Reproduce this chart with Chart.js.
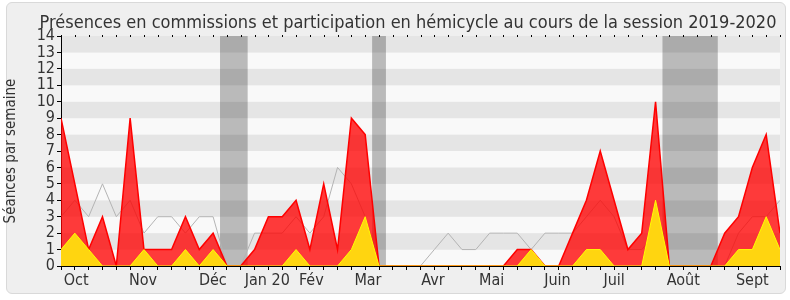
<!DOCTYPE html>
<html>
<head>
<meta charset="utf-8">
<script src="https://cdn.jsdelivr.net/npm/chart.js@4/dist/chart.umd.min.js"></script>
<style>
  html, body { margin: 0; padding: 0; background: #fff; }
  #wrap { position: relative; width: 790px; height: 300px; }
  #panel { position: absolute; left: 6px; top: 2px; width: 778px; height: 290px;
           background: #efefef; border: 1px solid #d9d9d9; border-radius: 6px; }
  canvas { position: absolute; left: 0; top: 0; }
</style>
</head>
<body>
<div id="wrap">
  <div id="panel"></div>
  <canvas id="chart" width="790" height="300"></canvas>
</div>
<script>
// weekly values, session 2019-2020 (week 0 = first week of October)
const commissions = [9, 5, 1, 3, 0, 9, 1, 1, 1, 3, 1, 2, 0, 0, 1, 3, 3, 4, 1, 5, 1, 9, 8, 0, 0, 0, 0,
                     0, 0, 0, 0, 0, 0, 1, 1, 0, 0, 2, 4, 7, 4, 1, 2, 10, 0, 0, 0, 0, 2, 3, 6, 8, 2];
const hemicycle   = [1, 2, 1, 0, 0, 0, 1, 0, 0, 1, 0, 1, 0, 0, 0, 0, 0, 1, 0, 0, 0, 1, 3, 0, 0, 0, 0,
                     0, 0, 0, 0, 0, 0, 0, 1, 0, 0, 0, 1, 1, 0, 0, 0, 4, 0, 0, 0, 0, 0, 1, 1, 3, 1];
const average     = [3, 4, 3, 5, 3, 4, 2, 3, 3, 2, 3, 3, 0, 0, 2, 2, 2, 3, 2, 3, 6, 5, 3, 0, 0, 0, 0,
                     1, 2, 1, 1, 2, 2, 2, 1, 2, 2, 2, 3, 4, 3, 1, 1, 2, 0, 0, 0, 0, 0, 2, 3, 3, 4];

const monthLabels = ['Oct', 'Nov', 'Déc', 'Jan 20', 'Fév', 'Mar', 'Avr', 'Mai', 'Juin', 'Juil', 'Août', 'Sept'];
const monthPos    = [1.1, 5.93, 10.98, 14.92, 18.1, 22.2, 26.9, 31.15, 35.9, 40.0, 45.0, 50.0];

// parliamentary breaks (in weeks)
const breakStart = [11.5, 22.5, 43.5];
const breakEnd   = [13.5, 23.5, 47.5];

const yMax = 14;
const titleText = 'Présences en commissions et participation en hémicycle au cours de la session 2019-2020';
const font = '"DejaVu Sans Condensed", "DejaVu Sans", sans-serif';

const toPoints = arr => arr.map((v, i) => ({ x: i, y: v }));

const backdrop = {
  id: 'backdrop',
  beforeDraw(chart) {
    const { ctx, chartArea: a, scales: { x, y } } = chart;
    ctx.save();
    // horizontal stripes
    for (let k = 0; k < yMax; k++) {
      const top = y.getPixelForValue(k + 1);
      const bot = y.getPixelForValue(k);
      ctx.fillStyle = k % 2 ? '#e5e5e5' : '#f9f9f9';
      ctx.fillRect(a.left, top, a.right - a.left, bot - top);
    }
    // breaks
    ctx.fillStyle = 'rgba(0,0,0,0.25)';
    breakStart.forEach((s, i) => {
      const l = x.getPixelForValue(s);
      const r = x.getPixelForValue(breakEnd[i]);
      ctx.fillRect(l, a.top, r - l, a.bottom - a.top);
    });
    // small marks along the top edge
    ctx.fillStyle = '#000';
    for (let w = 0; w <= 52; w++) {
      ctx.fillRect(Math.round(x.getPixelForValue(w)), a.top - 1, 1, 2);
    }
    // title
    ctx.fillStyle = '#333';
    ctx.font = '18px ' + font;
    ctx.textAlign = 'center';
    ctx.textBaseline = 'alphabetic';
    ctx.fillText(titleText, 408, 28);
    ctx.restore();
  }
};

new Chart(document.getElementById('chart'), {
  type: 'line',
  data: {
    datasets: [
      {
        label: 'Participation en hémicycle',
        data: toPoints(hemicycle),
        borderColor: '#ffff00',
        backgroundColor: '#ffd510',
        borderWidth: 1,
        fill: 'origin',
        pointRadius: 0,
        order: 1
      },
      {
        label: 'Présences en commissions',
        data: toPoints(commissions),
        borderColor: '#ff0000',
        backgroundColor: 'rgba(255,0,0,0.77)',
        borderWidth: 1.5,
        fill: 'origin',
        pointRadius: 0,
        order: 2
      },
      {
        label: 'Médiane des députés',
        data: toPoints(average),
        borderColor: '#b4b4b4',
        borderWidth: 1,
        fill: false,
        pointRadius: 0,
        order: 3
      }
    ]
  },
  options: {
    responsive: false,
    animation: false,
    layout: { padding: { top: 36, right: 10, left: 0, bottom: 0 } },
    plugins: {
      legend: { display: false },
      tooltip: { enabled: false }
    },
    scales: {
      x: {
        type: 'linear',
        min: 0,
        max: 52,
        afterBuildTicks: s => {
          const vals = [];
          for (let w = 0; w <= 52; w++) vals.push(w);
          monthPos.forEach(p => { if (!vals.includes(p)) vals.push(p); });
          vals.sort((a, b) => a - b);
          s.ticks = vals.map(v => ({ value: v }));
        },
        afterFit: s => { s.height = 34; },
        ticks: {
          autoSkip: false,
          maxRotation: 0,
          padding: 1,
          color: '#333',
          font: { family: font, size: 16 },
          callback: v => {
            const i = monthPos.indexOf(v);
            return i >= 0 ? monthLabels[i] : '';
          }
        },
        grid: {
          drawOnChartArea: false,
          tickLength: 4,
          tickColor: c => (c.tick && Number.isInteger(c.tick.value)) ? '#000' : 'rgba(0,0,0,0)'
        },
        border: { color: '#000', width: 1 }
      },
      y: {
        min: 0,
        max: yMax,
        afterFit: s => { s.width = 61; },
        ticks: {
          stepSize: 1,
          autoSkip: false,
          padding: 2,
          color: '#333',
          font: { family: font, size: 16 }
        },
        grid: { drawOnChartArea: false, tickLength: 4, tickColor: '#000' },
        border: { color: '#000', width: 1 },
        title: {
          display: true,
          text: 'Séances par semaine',
          color: '#333',
          font: { family: font, size: 15 },
          padding: { top: 2, bottom: 0 }
        }
      }
    }
  },
  plugins: [backdrop]
});
</script>
</body>
</html>
